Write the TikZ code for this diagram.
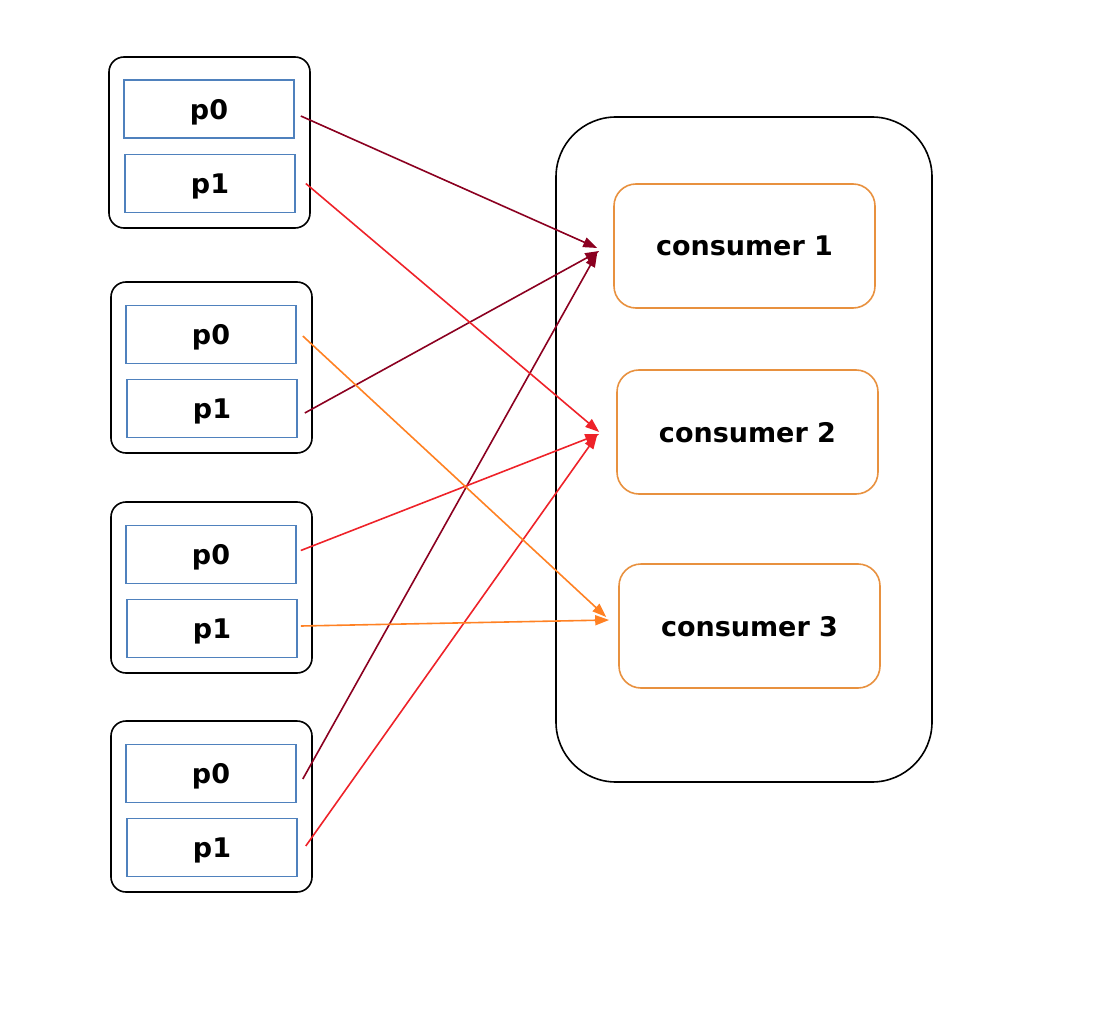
\documentclass[tikz,border=0pt]{standalone}
\usepackage{fontspec}
\setmainfont{DejaVu Sans}
\usetikzlibrary{arrows.meta}

\definecolor{pblue}{HTML}{4F81BD}
\definecolor{corange}{HTML}{E8913F}
\definecolor{adark}{HTML}{8B0020}
\definecolor{ared}{HTML}{EE2229}
\definecolor{aorange}{HTML}{FF8123}

\tikzset{
  group/.style={draw=black, line width=1.6pt, rounded corners=15pt,
    minimum width=201pt, minimum height=171pt, inner sep=0pt},
  part/.style={draw=pblue, line width=1.6pt, minimum width=170pt,
    minimum height=58pt, inner sep=0pt, text depth=0pt,
    font=\fontsize{27}{32}\selectfont\bfseries},
  consumer/.style={draw=corange, line width=1.6pt, rounded corners=22pt,
    minimum width=261pt, minimum height=124pt, inner sep=0pt, text depth=0pt,
    font=\fontsize{27}{32}\selectfont\bfseries},
  link/.style={line width=1.6pt, -{Triangle[length=14pt,width=10pt]}}
}

\begin{document}
\begin{tikzpicture}[x=1pt, y=-1pt]

  \useasboundingbox (0,0) rectangle (1119,1032);

  % container
  \node[draw=black, line width=1.6pt, rounded corners=60pt,
    minimum width=376pt, minimum height=665pt] (box) at (744,449.5) {};

  % consumers
  \node[consumer] (c1) at (744.5,246) {consumer 1};
  \node[consumer] (c2) at (747.5,432) {consumer 2};
  \node[consumer] (c3) at (749.5,626) {consumer 3};

  % groups with partitions
  \node[group] (g1) at (209.5,142.5) {};
  \node[part] (g1p0) at (209,109) {p0};
  \node[part] (g1p1) at (210,183.5) {p1};

  \node[group] (g2) at (211.5,367.5) {};
  \node[part] (g2p0) at (211,334.5) {p0};
  \node[part] (g2p1) at (212,408.5) {p1};

  \node[group] (g3) at (211.5,587.5) {};
  \node[part] (g3p0) at (211,554.5) {p0};
  \node[part] (g3p1) at (212,628.5) {p1};

  \node[group] (g4) at (211.5,806.5) {};
  \node[part] (g4p0) at (211,773.5) {p0};
  \node[part] (g4p1) at (212,847.5) {p1};

  % assignments
  \draw[link, adark] ([xshift=6pt,yshift=-7pt]g1p0.east) -- ([xshift=-16pt,yshift=-2pt]c1.west);
  \draw[link, adark] ([xshift=7pt,yshift=-4.5pt]g2p1.east) -- ([xshift=-14pt,yshift=-5pt]c1.west);
  \draw[link, adark] ([xshift=6pt,yshift=-5.5pt]g4p0.east) -- ([xshift=-16pt,yshift=-7pt]c1.west);

  \draw[link, ared] ([xshift=10pt]g1p1.east) -- ([xshift=-17pt]c2.west);
  \draw[link, ared] ([xshift=4pt,yshift=4pt]g3p0.east) -- ([xshift=-17pt,yshift=-2pt]c2.west);
  \draw[link, ared] ([xshift=8pt,yshift=1.5pt]g4p1.east) -- ([xshift=-19pt,yshift=-3pt]c2.west);

  \draw[link, aorange] ([xshift=6pt,yshift=-1.5pt]g2p0.east) -- ([xshift=-12pt,yshift=9pt]c3.west);
  \draw[link, aorange] ([xshift=3pt,yshift=2.5pt]g3p1.east) -- ([xshift=-9pt,yshift=6pt]c3.west);

\end{tikzpicture}
\end{document}
